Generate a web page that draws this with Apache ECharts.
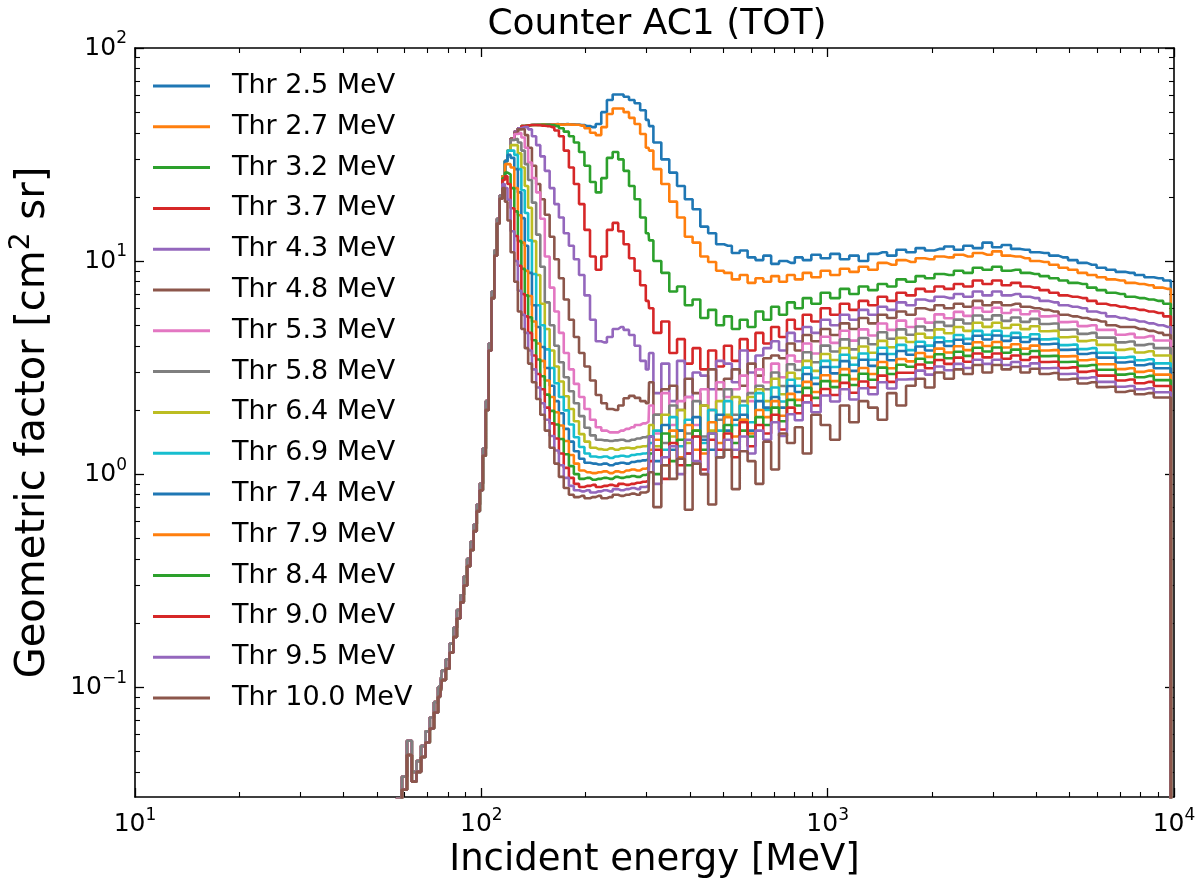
<!DOCTYPE html>
<html>
<head>
<meta charset="utf-8">
<script src="https://cdn.jsdelivr.net/npm/echarts@6/dist/echarts.min.js"></script>
<style>
html, body { margin: 0; padding: 0; background: #fff; }
#chart { width: 1200px; height: 886px; }
</style>
</head>
<body>
<div id="chart"></div>
<script>
// incident energy bins [MeV]
var eRise = [56, 58, 60, 62, 64, 66, 68, 70, 72, 74, 76, 78, 80, 82, 84, 86, 88, 90, 92, 94, 96, 98, 100, 102, 104, 106, 108, 110, 112, 114]
var eMain = [116, 118, 120, 123, 126, 129, 132, 135, 138, 142, 146, 150, 155, 160, 165, 170, 176, 182, 188, 195, 202, 210, 218, 226, 235, 244, 253, 262, 272, 282, 293, 304]
var eTail = [306, 322, 340, 358, 377, 397, 418, 440, 464, 489, 515, 543, 572, 603, 635, 669, 705, 743, 783, 825, 870, 925, 985, 1050, 1120, 1190, 1270, 1350, 1440, 1530, 1630, 1740, 1850, 1970, 2100, 2240, 2390, 2540, 2710, 2890, 3080, 3280, 3490, 3720, 3960, 4220, 4500, 4790, 5100, 5440, 5790, 6170, 6570, 7000, 7460, 7950, 8470, 9020, 9600]
var eEnd = 9990
var gEnd = 0.001

// common rising edge (low thresholds / high thresholds)
var gRiseHi = [0.02, 0.03, 0.038, 0.056, 0.04, 0.045, 0.053, 0.062, 0.072, 0.085, 0.1, 0.12, 0.135, 0.16, 0.19, 0.23, 0.27, 0.33, 0.4, 0.48, 0.58, 0.72, 0.9, 1.32, 2.2, 4.1, 7.2, 11.2, 15.8, 20.3]
var gRiseLo = [0.015, 0.026, 0.033, 0.048, 0.036, 0.04, 0.047, 0.055, 0.064, 0.076, 0.09, 0.108, 0.122, 0.145, 0.172, 0.21, 0.25, 0.3, 0.37, 0.44, 0.54, 0.67, 0.84, 1.22, 2.0, 3.8, 6.7, 10.6, 15.0, 19.6]

var thresholds = ['2.5', '2.7', '3.2', '3.7', '4.3', '4.8', '5.3', '5.8', '6.4', '6.9', '7.4', '7.9', '8.4', '9.0', '9.5', '10.0']

// geometric factor [cm2 sr], 116-304 MeV
var main25 = [25, 29.5, 33, 37.5, 40.5, 42, 43, 43.3, 43.5, 43.6, 43.7, 43.7, 43.8, 43.8, 43.9, 43.8, 43.9, 43.8, 43.7, 43.5, 43, 42.5, 44, 50, 57, 60.5, 60.5, 59, 57, 55, 51, 46]
var main27 = [25, 29.5, 33, 37.5, 40.5, 42, 43, 43.3, 43.5, 43.5, 43.6, 43.7, 43.6, 43.7, 43.8, 43.7, 43.8, 43.7, 43.6, 43.2, 42, 40, 39, 42.5, 49, 52, 52, 50, 47, 44, 39.5, 34]
var main32 = [25, 29.5, 33, 37.5, 40.5, 42, 43, 43.3, 43.5, 43.5, 43.5, 43.6, 43.5, 43.4, 43, 42, 40.5, 38.5, 36, 32.5, 28, 23.5, 21, 24.5, 30.5, 32.5, 30, 26.5, 22.5, 19.5, 16, 13.5]
var main37 = [25, 29.5, 33, 37.5, 40.5, 42, 43, 43.3, 43.5, 43.5, 43.4, 43.2, 43, 42.5, 41, 38.5, 33, 27.5, 23, 18.5, 14, 10.5, 9.1, 10.5, 14, 15.1, 13.8, 12, 10.3, 9.0, 7.7, 6.5]
var main43 = [25, 29.5, 33, 37.5, 40.5, 42, 42.6, 42.5, 41.5, 38.5, 35, 31, 26.5, 22, 18.5, 16, 13.5, 11.8, 10.2, 8.6, 6.9, 5.3, 4.2, 4.15, 4.4, 4.8, 4.9, 4.75, 4.5, 4.0, 3.4, 3.1]
var main48 = [25, 29.5, 33, 37.5, 40, 41.5, 41.7, 39, 34, 28, 23, 19.5, 16.5, 13, 10.2, 8.3, 6.6, 5.3, 4.4, 3.7, 3.2, 2.75, 2.35, 2.15, 2.02, 2.0, 2.1, 2.27, 2.33, 2.28, 2.2, 2.15]
var main53 = [25, 29.5, 33, 37, 39.5, 40, 38, 34, 29, 24.5, 21, 15.8, 10.5, 7.5, 5.8, 4.6, 3.7, 3.1, 2.65, 2.3, 2.02, 1.8, 1.66, 1.6, 1.57, 1.57, 1.6, 1.63, 1.66, 1.7, 1.73, 1.76]
var main58 = [25, 29.5, 33, 37, 37.5, 36, 33, 28.5, 24, 18.8, 13.3, 9.4, 6.4, 5.0, 4.0, 3.35, 2.85, 2.45, 2.15, 1.87, 1.65, 1.52, 1.45, 1.44, 1.43, 1.44, 1.45, 1.43, 1.45, 1.47, 1.49, 1.51]
var main64 = [25, 29.5, 33, 35, 35, 32, 27.5, 22.5, 17.8, 12.4, 8.6, 6.3, 4.8, 3.8, 3.2, 2.72, 2.32, 2.02, 1.77, 1.54, 1.42, 1.33, 1.31, 1.3, 1.32, 1.3, 1.32, 1.33, 1.32, 1.34, 1.35, 1.36]
var main69 = [25, 29.5, 33, 33, 31.5, 27, 21.5, 16.8, 12.5, 8.7, 6.2, 5.0, 3.85, 3.15, 2.67, 2.3, 1.99, 1.71, 1.49, 1.34, 1.25, 1.21, 1.2, 1.21, 1.19, 1.21, 1.22, 1.21, 1.23, 1.24, 1.25, 1.26]
var main74 = [25, 29.5, 31.5, 30.5, 27, 21, 15.9, 11.8, 8.8, 6.2, 4.9, 3.95, 3.15, 2.6, 2.2, 1.93, 1.63, 1.42, 1.28, 1.18, 1.13, 1.12, 1.11, 1.12, 1.1, 1.12, 1.13, 1.12, 1.14, 1.15, 1.16, 1.17]
var main79 = [25, 28.5, 28.5, 27.5, 22, 16.4, 12.2, 9.0, 6.85, 5.2, 4.1, 3.4, 2.75, 2.3, 1.95, 1.69, 1.43, 1.23, 1.12, 1.04, 1.02, 1.01, 1.02, 1.03, 1.01, 1.03, 1.02, 1.04, 1.05, 1.04, 1.06, 1.07]
var main84 = [24.5, 26, 25.5, 22, 17.1, 12.4, 9.2, 6.9, 5.45, 4.25, 3.45, 2.88, 2.36, 1.98, 1.71, 1.46, 1.24, 1.09, 1.0, 0.95, 0.96, 0.94, 0.95, 0.96, 0.95, 0.97, 0.96, 0.97, 0.98, 0.97, 0.99, 1.0]
var main90 = [24, 25, 23, 17.7, 13.1, 9.5, 7.0, 5.5, 4.6, 3.6, 2.95, 2.5, 2.05, 1.73, 1.47, 1.25, 1.07, 0.96, 0.9, 0.87, 0.88, 0.89, 0.87, 0.88, 0.89, 0.88, 0.9, 0.89, 0.9, 0.91, 0.92, 0.93]
var main95 = [23, 22, 19.4, 13.8, 10, 7.25, 5.6, 4.6, 3.8, 3.1, 2.55, 2.15, 1.8, 1.51, 1.29, 1.1, 0.96, 0.88, 0.84, 0.83, 0.84, 0.82, 0.83, 0.84, 0.83, 0.85, 0.84, 0.85, 0.86, 0.85, 0.87, 0.88]
var main100 = [22, 19, 15.5, 11, 8.0, 5.8, 4.8, 3.9, 3.3, 2.7, 2.25, 1.9, 1.6, 1.33, 1.12, 0.97, 0.86, 0.8, 0.78, 0.79, 0.77, 0.78, 0.79, 0.77, 0.78, 0.8, 0.79, 0.8, 0.81, 0.8, 0.82, 0.83]

// geometric factor [cm2 sr], 306 MeV - 9.6 GeV
var tail25 = [43, 36, 30, 26, 22.5, 19.5, 17.5, 14.5, 13.5, 12, 11.8, 10.9, 11.2, 10.4, 10.1, 10.6, 9.7, 10.0, 9.8, 10.4, 10.1, 10.7, 10.3, 10.8, 10.2, 10.6, 10.0, 10.8, 11.0, 10.6, 11.3, 11.0, 11.5, 11.2, 11.4, 11.7, 11.3, 11.8, 11.5, 12.2, 11.6, 11.9, 11.4, 11.3, 11.0, 10.9, 10.6, 10.4, 10.1, 9.8, 9.6, 9.3, 9.1, 8.9, 8.8, 8.6, 8.4, 8.3, 8.1]
var tail27 = [33, 27, 23, 19, 16, 13, 12.2, 10.5, 9.9, 9.0, 8.8, 8.2, 8.6, 7.9, 8.3, 8.0, 8.5, 8.0, 8.6, 8.2, 8.8, 8.4, 9.0, 8.6, 9.2, 8.9, 9.4, 9.1, 9.8, 9.6, 10.1, 9.9, 10.3, 10.2, 10.5, 10.4, 10.7, 10.5, 10.9, 10.7, 11.1, 10.6, 10.5, 10.3, 10.0, 9.9, 9.6, 9.3, 9.1, 8.8, 8.6, 8.4, 8.2, 8.1, 7.9, 7.8, 7.7, 7.5, 7.4]
var tail32 = [12.5, 10.0, 8.8, 7.2, 7.6, 6.2, 6.6, 5.4, 5.9, 5.0, 5.5, 4.8, 5.3, 4.9, 5.8, 5.3, 6.1, 5.6, 6.4, 6.0, 6.7, 6.3, 7.1, 6.7, 7.4, 7.0, 7.6, 7.3, 7.8, 7.6, 8.2, 8.0, 8.5, 8.3, 8.7, 8.6, 9.0, 8.8, 9.3, 9.1, 9.4, 9.0, 9.1, 8.8, 8.7, 8.5, 8.3, 8.1, 7.9, 7.8, 7.5, 7.3, 7.1, 7.0, 6.8, 6.7, 6.6, 6.5, 6.3]
var tail37 = [6.0, 4.6, 5.2, 3.7, 4.3, 3.3, 3.9, 3.1, 3.8, 3.2, 4.0, 3.4, 4.3, 3.8, 4.6, 4.1, 4.9, 4.4, 5.3, 4.8, 5.6, 5.2, 6.0, 5.6, 6.3, 5.9, 6.5, 6.2, 6.8, 6.5, 7.1, 6.9, 7.4, 7.2, 7.6, 7.4, 7.8, 7.6, 8.1, 7.8, 8.1, 7.7, 7.9, 7.6, 7.5, 7.3, 7.1, 6.9, 6.8, 6.7, 6.5, 6.3, 6.2, 6.1, 6.0, 5.9, 5.8, 5.7, 5.5]
var tail43 = [3.7, 2.4, 3.3, 2.2, 3.4, 2.3, 3.0, 2.9, 2.5, 3.4, 3.3, 2.7, 3.8, 3.0, 3.6, 3.9, 4.2, 3.8, 4.6, 4.2, 4.9, 4.6, 5.3, 5.0, 5.6, 5.3, 5.9, 5.6, 6.1, 5.9, 6.4, 6.2, 6.6, 6.5, 6.8, 6.7, 7.0, 6.8, 7.2, 6.9, 7.2, 6.9, 7.0, 6.8, 6.7, 6.5, 6.4, 6.2, 6.1, 6.0, 5.8, 5.7, 5.5, 5.4, 5.3, 5.2, 5.1, 5.0, 4.9]
var tail48 = [2.7, 1.9, 2.5, 2.6, 2.0, 2.8, 2.4, 2.1, 3.1, 2.5, 2.8, 3.1, 2.6, 3.3, 2.9, 3.5, 3.6, 3.5, 4.1, 3.8, 4.5, 4.2, 4.8, 4.5, 5.1, 4.8, 5.4, 5.1, 5.6, 5.4, 5.8, 5.6, 6.0, 5.9, 6.2, 6.0, 6.3, 6.1, 6.5, 6.2, 6.4, 6.2, 6.3, 6.1, 6.0, 5.9, 5.8, 5.6, 5.5, 5.4, 5.3, 5.2, 5.0, 4.9, 4.9, 4.8, 4.7, 4.6, 4.5]
var tail53 = [2.1, 1.55, 2.4, 1.7, 2.2, 2.3, 1.7, 2.5, 2.0, 2.7, 2.3, 2.5, 2.9, 2.2, 3.1, 2.7, 3.3, 2.85, 3.60, 3.38, 4.10, 3.68, 4.41, 4.13, 4.71, 4.23, 4.78, 4.47, 5.09, 4.75, 5.25, 4.90, 5.36, 5.14, 5.62, 5.39, 5.77, 5.53, 6.03, 5.78, 6.04, 5.70, 5.90, 5.63, 5.81, 5.50, 5.53, 5.17, 5.19, 4.95, 5.00, 4.75, 4.75, 4.51, 4.55, 4.38, 4.44, 4.24, 4.24]
var tail58 = [1.5, 1.9, 1.4, 2.1, 1.6, 1.55, 2.2, 1.5, 2.0, 1.8, 2.5, 1.9, 2.2, 2.4, 2.6, 2.5, 3.0, 2.59, 3.28, 3.08, 3.73, 3.35, 4.01, 3.76, 4.29, 3.85, 4.35, 4.07, 4.63, 4.32, 4.78, 4.51, 4.93, 4.73, 5.17, 4.96, 5.31, 5.09, 5.55, 5.32, 5.56, 5.24, 5.43, 5.18, 5.35, 5.06, 5.09, 4.76, 4.77, 4.55, 4.60, 4.37, 4.37, 4.15, 4.19, 4.03, 4.08, 3.90, 3.90]
var tail64 = [1.7, 1.35, 1.9, 1.5, 2.0, 1.4, 1.6, 2.1, 1.6, 2.2, 1.9, 2.3, 1.8, 2.3, 2.5, 2.2, 2.8, 2.37, 2.99, 2.81, 3.40, 3.05, 3.66, 3.43, 3.91, 3.51, 3.97, 3.71, 4.22, 3.94, 4.36, 4.17, 4.56, 4.37, 4.78, 4.58, 4.90, 4.70, 5.13, 4.91, 5.13, 4.85, 5.02, 4.79, 4.94, 4.68, 4.70, 4.39, 4.41, 4.21, 4.25, 4.04, 4.04, 3.83, 3.87, 3.72, 3.77, 3.60, 3.60]
var tail69 = [1.4, 1.6, 1.3, 1.85, 1.35, 1.8, 1.5, 1.4, 2.0, 1.6, 2.2, 1.7, 2.1, 1.75, 2.4, 2.0, 2.55, 2.19, 2.77, 2.60, 3.16, 2.83, 3.40, 3.18, 3.63, 3.26, 3.68, 3.44, 3.92, 3.66, 4.04, 3.82, 4.18, 4.01, 4.38, 4.20, 4.50, 4.31, 4.70, 4.51, 4.71, 4.45, 4.60, 4.39, 4.53, 4.29, 4.31, 4.03, 4.05, 3.86, 3.90, 3.71, 3.71, 3.52, 3.55, 3.42, 3.46, 3.31, 3.31]
var tail74 = [1.5, 1.15, 1.7, 1.3, 1.6, 1.25, 1.85, 1.45, 1.3, 1.9, 1.6, 1.8, 1.9, 1.6, 2.2, 2.05, 2.3, 2.05, 2.59, 2.43, 2.95, 2.65, 3.18, 2.97, 3.39, 3.05, 3.44, 3.22, 3.66, 3.42, 3.78, 3.63, 3.97, 3.80, 4.16, 3.99, 4.27, 4.09, 4.46, 4.28, 4.47, 4.22, 4.37, 4.17, 4.30, 4.07, 4.09, 3.83, 3.84, 3.66, 3.70, 3.52, 3.52, 3.34, 3.37, 3.24, 3.29, 3.14, 3.14]
var tail79 = [1.3, 1.45, 1.1, 1.6, 1.2, 1.7, 1.3, 1.25, 1.75, 1.4, 1.85, 1.5, 1.8, 1.55, 2.0, 1.85, 2.2, 1.88, 2.38, 2.23, 2.71, 2.43, 2.91, 2.73, 3.11, 2.79, 3.15, 2.95, 3.36, 3.14, 3.47, 3.38, 3.70, 3.55, 3.88, 3.72, 3.98, 3.82, 4.16, 3.99, 4.17, 3.93, 4.07, 3.88, 4.01, 3.80, 3.82, 3.57, 3.58, 3.42, 3.45, 3.28, 3.28, 3.11, 3.14, 3.02, 3.06, 2.93, 2.93]
var tail84 = [1.25, 1.0, 1.55, 1.15, 1.45, 1.1, 1.6, 1.3, 1.55, 1.2, 1.7, 1.4, 1.6, 1.5, 1.85, 1.7, 2.05, 1.77, 2.23, 2.10, 2.54, 2.28, 2.73, 2.56, 2.92, 2.62, 2.96, 2.77, 3.16, 2.95, 3.26, 3.19, 3.48, 3.34, 3.65, 3.50, 3.75, 3.59, 3.92, 3.76, 3.93, 3.71, 3.84, 3.66, 3.78, 3.58, 3.59, 3.36, 3.37, 3.22, 3.25, 3.09, 3.09, 2.93, 2.96, 2.85, 2.89, 2.76, 2.76]
var tail90 = [1.15, 1.3, 0.95, 1.4, 1.1, 1.25, 1.5, 1.05, 1.45, 1.3, 1.55, 1.2, 1.75, 1.35, 1.7, 1.55, 1.9, 1.62, 2.05, 1.93, 2.34, 2.10, 2.51, 2.35, 2.68, 2.41, 2.72, 2.55, 2.90, 2.71, 2.99, 2.99, 3.27, 3.14, 3.43, 3.29, 3.52, 3.37, 3.68, 3.53, 3.68, 3.48, 3.60, 3.43, 3.54, 3.36, 3.37, 3.15, 3.17, 3.02, 3.05, 2.90, 2.90, 2.75, 2.78, 2.67, 2.71, 2.59, 2.59]
var tail95 = [1.5, 0.9, 1.2, 1.35, 1.0, 1.45, 1.15, 1.0, 1.55, 1.2, 1.45, 1.3, 1.5, 1.25, 1.6, 1.45, 1.75, 1.51, 1.91, 1.79, 2.17, 1.95, 2.34, 2.19, 2.50, 2.24, 2.53, 2.37, 2.70, 2.52, 2.78, 2.79, 3.06, 2.93, 3.20, 3.07, 3.29, 3.15, 3.44, 3.29, 3.44, 3.25, 3.36, 3.21, 3.31, 3.14, 3.15, 2.95, 2.96, 2.82, 2.85, 2.71, 2.71, 2.57, 2.59, 2.50, 2.53, 2.42, 2.42]
var tail100 = [1.02, 0.7, 1.1, 0.95, 1.18, 0.68, 1.12, 1.0, 0.72, 1.2, 1.3, 0.85, 1.28, 1.15, 0.9, 1.42, 1.05, 1.55, 1.4, 1.66, 1.25, 1.9, 1.7, 1.45, 2.1, 1.75, 2.2, 2.05, 1.8, 2.4, 2.1, 2.6, 2.8, 2.55, 3.0, 2.8, 3.1, 2.95, 3.25, 3.0, 3.25, 3.1, 3.18, 3.0, 3.12, 2.95, 2.98, 2.78, 2.8, 2.66, 2.7, 2.56, 2.57, 2.43, 2.46, 2.37, 2.4, 2.29, 2.29]

var mains = [main25, main27, main32, main37, main43, main48, main53, main58, main64, main69, main74, main79, main84, main90, main95, main100]
var tails = [tail25, tail27, tail32, tail37, tail43, tail48, tail53, tail58, tail64, tail69, tail74, tail79, tail84, tail90, tail95, tail100]
var colors = ['#1f77b4', '#ff7f0e', '#2ca02c', '#d62728', '#9467bd', '#8c564b', '#e377c2', '#7f7f7f', '#bcbd22', '#17becf']

var xMin = 10, xMax = 10000, yMin = 0.0305, yMax = 100
var font = 'DejaVu Sans'

// tick positions in log10 space for the frame axes
function majors(lo, hi) {
    var out = []
    for (var d = Math.ceil(lo); d <= hi; d++) out.push(d)
    return out
}
function minors(lo, hi) {
    var out = []
    for (var d = Math.floor(lo); d < hi; d++) {
        for (var m = 2; m <= 9; m++) {
            var v = d + Math.log10(m)
            if (v > lo && v < hi) out.push(v)
        }
    }
    return out
}
var lxMin = Math.log10(xMin), lxMax = Math.log10(xMax)
var lyMin = Math.log10(yMin), lyMax = Math.log10(yMax)

function pow10(v) {
    var e = Math.round(v)
    return '10{sup|' + (e < 0 ? '\u2212' + (-e) : e) + '}'
}
var supRich = { sup: { fontSize: 17, fontFamily: font, color: '#000', verticalAlign: 'top', padding: [0, 0, 18, 0] } }
var black = { color: '#000', width: 1.6 }

function frameAxis(dim, pos, minor, withLabels) {
    var lo = dim == 'x' ? lxMin : lyMin
    var hi = dim == 'x' ? lxMax : lyMax
    var ticks = minor ? minors(lo, hi) : majors(lo, hi)
    return {
        type: 'value', gridIndex: 0, position: pos, min: lo, max: hi,
        axisLine: { show: !minor, onZero: false, lineStyle: black },
        axisTick: { show: true, inside: true, length: minor ? 5 : 9, customValues: ticks, lineStyle: { color: '#000', width: minor ? 1.1 : 1.3 } },
        axisLabel: withLabels ? { show: true, customValues: ticks, formatter: pow10, rich: supRich, fontSize: 25, fontFamily: font, color: '#000', margin: dim == 'x' ? 10 : 8 } : { show: false },
        splitLine: { show: false },
        silent: true
    }
}

var xs = eRise.concat(eMain, eTail, [eEnd])
var series = thresholds.map(function (t, i) {
    var ys = (i < 8 ? gRiseHi : gRiseLo).concat(mains[i], tails[i], [gEnd])
    var c = colors[i % 10]
    return {
        name: 'Thr ' + t + ' MeV',
        type: 'line',
        xAxisIndex: 0,
        yAxisIndex: 0,
        step: 'middle',
        symbol: 'none',
        silent: true,
        animation: false,
        lineStyle: { width: 2.6, color: c },
        itemStyle: { color: c },
        data: xs.map(function (x, j) { return [x, ys[j]] })
    }
})

var xName = frameAxis('x', 'bottom', false, true)
xName.name = 'Incident energy [MeV]'
xName.nameLocation = 'middle'
xName.nameGap = 44
xName.nameTextStyle = { fontSize: 37, fontFamily: font, color: '#000' }

var yName = frameAxis('y', 'left', false, true)
yName.name = 'Geometric factor [cm{sup|2} sr]'
yName.nameLocation = 'middle'
yName.nameGap = 75
yName.nameTextStyle = { fontSize: 40, fontFamily: font, color: '#000', rich: { sup: { fontSize: 28, fontFamily: font, color: '#000', verticalAlign: 'top', padding: [0, 0, 24, 0] } } }

var option = {
    backgroundColor: '#fff',
    animation: false,
    textStyle: { fontFamily: font },
    title: {
        text: 'Counter AC1 (TOT)',
        left: 652,
        top: 2,
        textAlign: 'center',
        textStyle: { fontSize: 36, fontWeight: 'normal', fontFamily: font, color: '#000' }
    },
    legend: {
        orient: 'vertical',
        left: 148,
        top: 67,
        icon: 'rect',
        itemWidth: 57,
        itemHeight: 3,
        itemGap: 12.8,
        selectedMode: false,
        textStyle: { fontSize: 27, fontFamily: font, color: '#000', lineHeight: 28, padding: [0, 0, 0, 17] },
        data: series.map(function (s) { return s.name })
    },
    grid: { left: 131, right: 26, top: 48, bottom: 89, containLabel: false },
    xAxis: [
        { type: 'log', logBase: 10, min: xMin, max: xMax, show: false, gridIndex: 0 },
        xName,
        frameAxis('x', 'bottom', true, false),
        frameAxis('x', 'top', false, false),
        frameAxis('x', 'top', true, false)
    ],
    yAxis: [
        { type: 'log', logBase: 10, min: yMin, max: yMax, show: false, gridIndex: 0 },
        yName,
        frameAxis('y', 'left', true, false),
        frameAxis('y', 'right', false, false),
        frameAxis('y', 'right', true, false)
    ],
    series: series
}

var chart = echarts.init(document.getElementById('chart'), null, { renderer: 'canvas' })
chart.setOption(option)
</script>
</body>
</html>
